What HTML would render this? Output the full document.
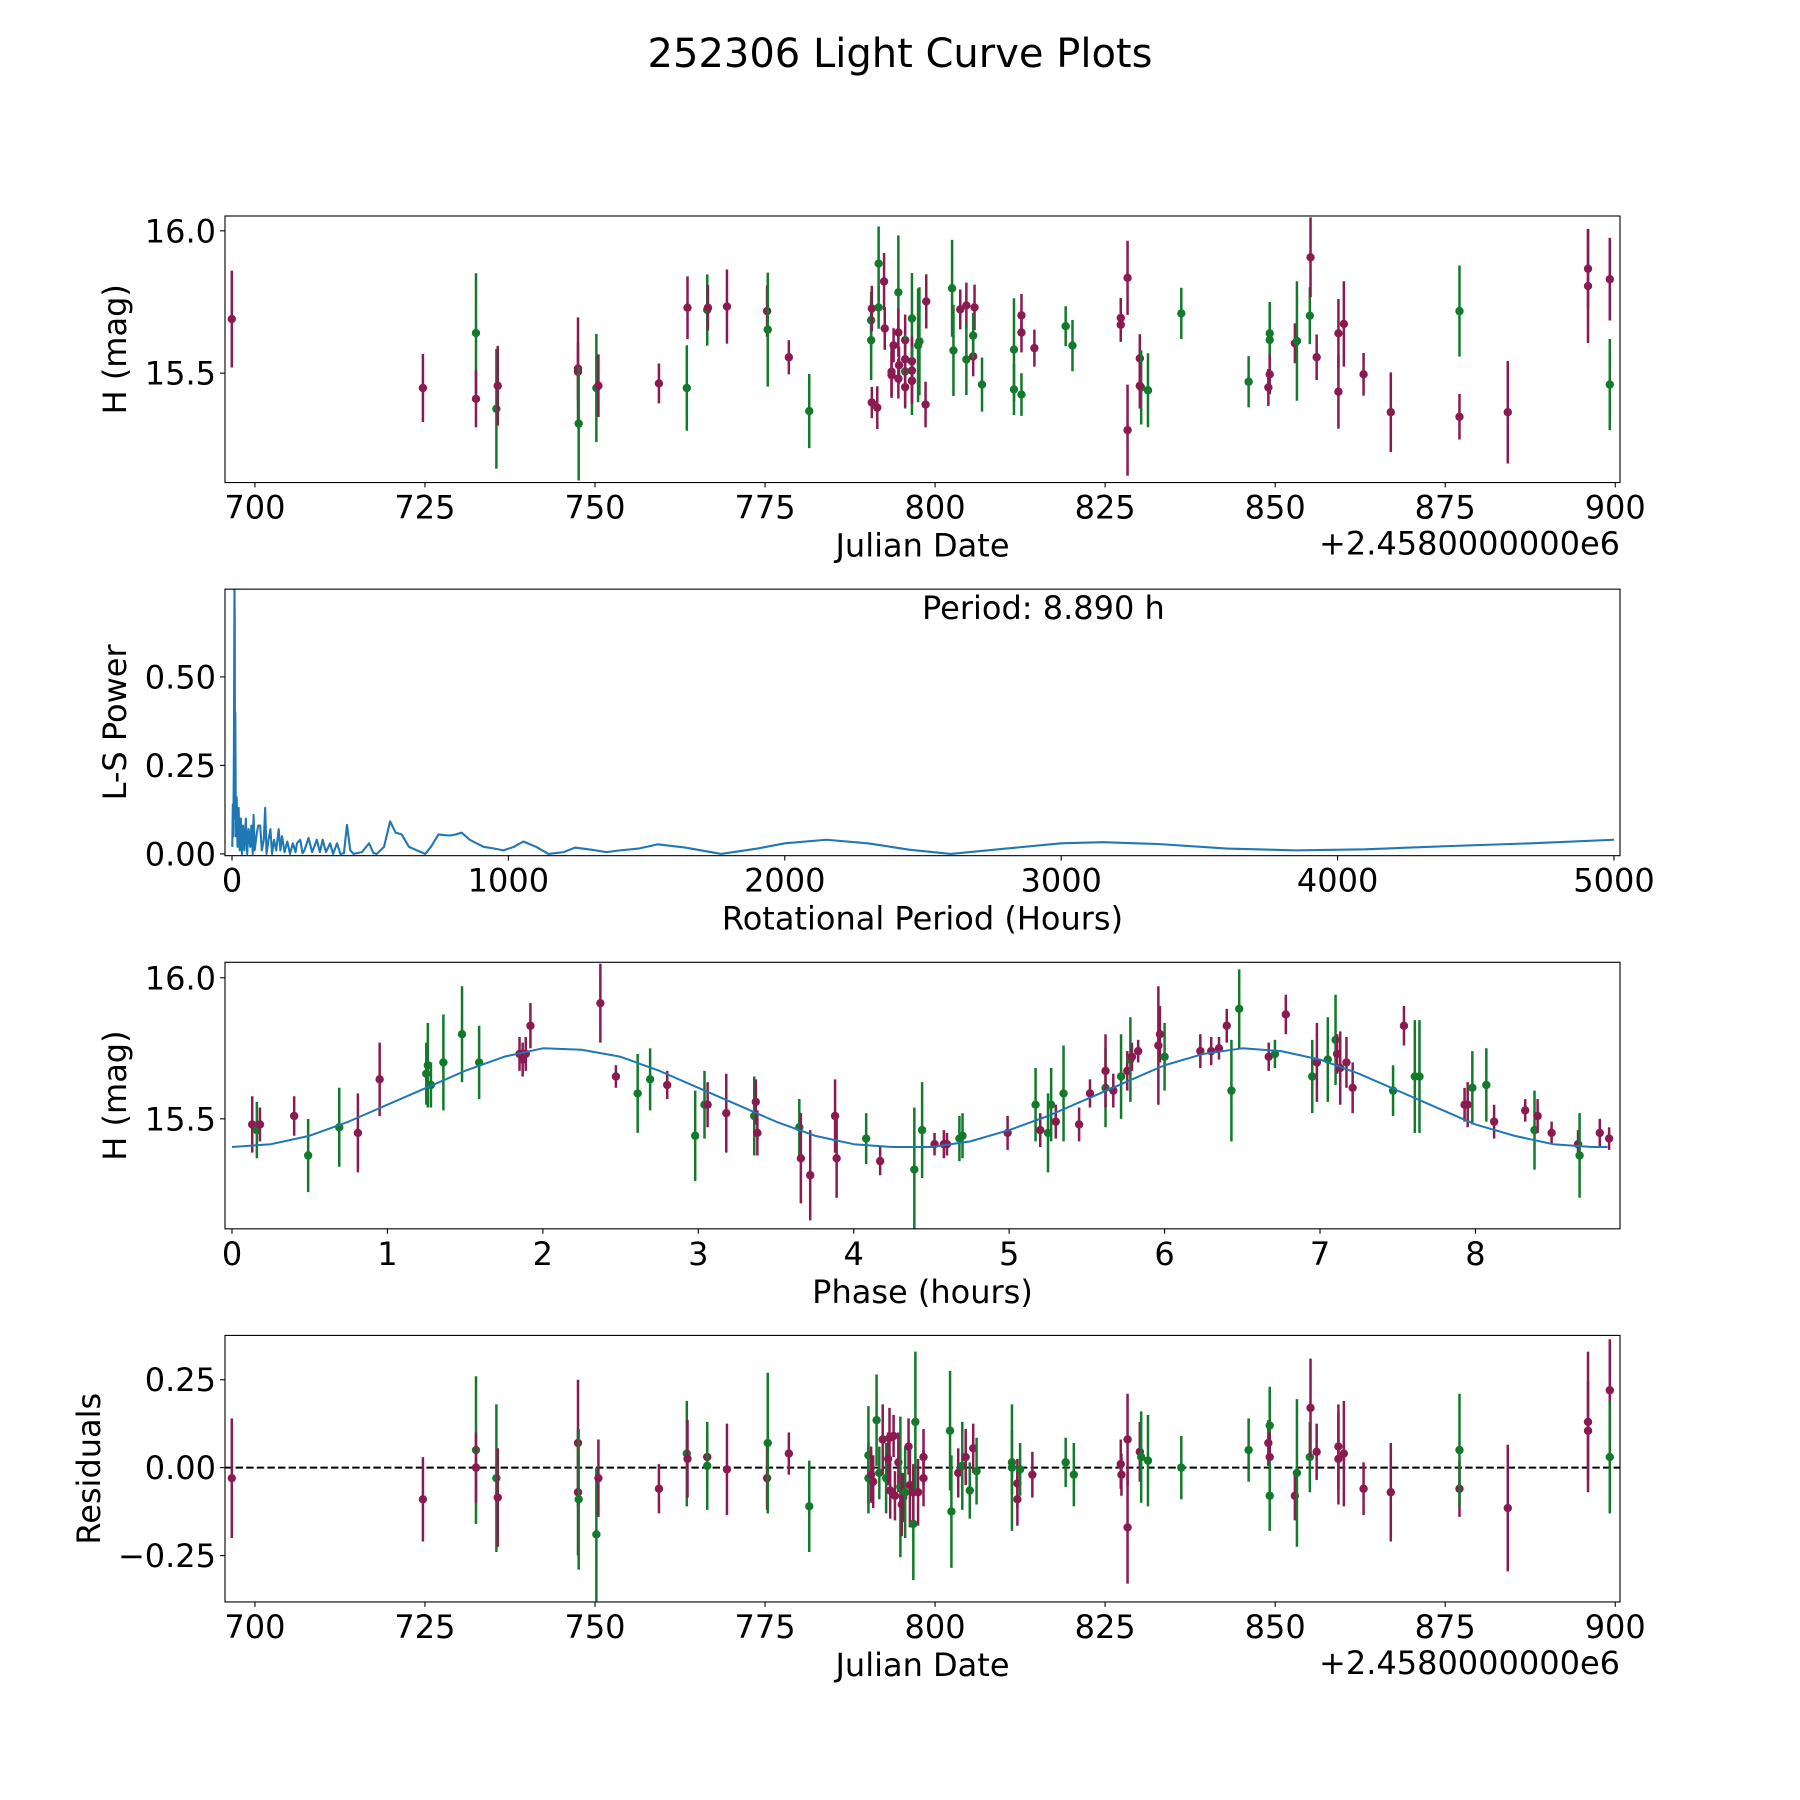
<!DOCTYPE html>
<html><head><meta charset="utf-8">
<style>
html,body{margin:0;padding:0;background:#fff;}
svg{display:block;font-family:"DejaVu Sans","Liberation Sans",sans-serif;}
</style></head>
<body>
<svg id="fig" width="1800" height="1800" viewBox="0 0 1800 1800" xmlns="http://www.w3.org/2000/svg">
<rect width="1800" height="1800" fill="#fff"/>
<text x="900" y="67" font-size="40" text-anchor="middle">252306 Light Curve Plots</text>
</svg>
<script>
// ---------- Panel 1: observations ----------
const obsJD=[696.6,724.7,732.5,732.5,735.5,735.7,747.5,747.5,747.6,750.2,750.5,759.4,763.5,763.6,766.5,766.6,769.4,775.3,775.4,778.5,781.5,
790.6,790.6,790.7,790.7,791.5,791.7,791.7,792.5,792.6,793.9,793.6,793.6,794.6,794.6,794.7,794.6,795.6,795.6,795.6,795.6,796.6,796.6,796.6,796.6,796.6,797.5,797.7,798.7,798.6,
802.5,802.7,803.7,804.6,804.6,805.8,805.6,805.6,806.9,811.6,811.6,812.7,812.7,812.7,814.6,
819.2,820.2,827.3,827.3,828.3,828.3,830.1,830.3,830.1,831.3,836.2,846.1,849.0,849.2,849.2,849.2,852.9,853.2,855.1,855.2,856.1,859.3,859.3,860.1,863.0,867.0,877.1,877.1,884.2,896.0,896.0,899.2,899.2];
const obsMag=[15.69,15.448,15.641,15.41,15.375,15.456,15.516,15.505,15.323,15.448,15.456,15.464,15.448,15.73,15.722,15.73,15.734,15.718,15.653,15.556,15.367,
15.686,15.616,15.727,15.397,15.379,15.885,15.731,15.822,15.657,15.598,15.505,15.493,15.784,15.643,15.528,15.481,15.616,15.506,15.549,15.451,15.692,15.542,15.509,15.473,15.473,15.598,15.612,15.752,15.39,
15.798,15.58,15.724,15.738,15.548,15.731,15.559,15.632,15.46,15.583,15.443,15.703,15.643,15.425,15.588,
15.665,15.597,15.694,15.67,15.835,15.30,15.552,15.45,15.456,15.44,15.71,15.47,15.45,15.64,15.617,15.496,15.605,15.613,15.702,15.907,15.556,15.64,15.435,15.673,15.496,15.363,15.347,15.718,15.363,15.806,15.867,15.83,15.46];
const obsErr=[.17,.12,.21,.10,.21,.14,.18,.10,.20,.19,.11,.07,.15,.11,.125,.08,.13,.09,.20,.06,.13,
.10,.14,.08,.055,.075,.13,.075,.10,.075,.06,.085,.08,.20,.085,.065,.07,.09,.13,.07,.07,.16,.08,.12,.12,.08,.20,.19,.095,.08,
.17,.16,.07,.08,.125,.08,.07,.08,.095,.18,.09,.075,.07,.075,.065,
.07,.09,.07,.06,.13,.16,.085,.13,.08,.13,.09,.09,.065,.11,.10,.07,.07,.21,.10,.14,.08,.12,.13,.15,.075,.14,.08,.16,.18,.20,.14,.145,.16];
const obsBand="mmgmgmmmggmmgmgmmmgmg"+"ggmmmggmmmmmgmmmmgmmgmmgmggmm"+"ggmmgmmggggmmgm"+"ggmmmmmgmgggmggmmggmmmmmmmmgmmmmg";

// ---------- Panel 2: periodogram ----------
const perHours=[1,3,5,7,8.89,10,11,12,14,17,20,24,28,32,36,40,45,50,55,60,66,70,75,78,82,90,95,102,108,115,120,125,132,139,145,152,160,169,175,181,190,200,210,220,230,235,247,255,262,277,290,307,318,328,340,355,366,380,392,405,416,428,440,470,496,512,524,550,572,592,614,640,669,699,720,747,770,789,810,831,860,910,950,982,1020,1054,1100,1145,1200,1241,1300,1355,1403,1470,1540,1640,1770,1900,2000,2150,2300,2450,2600,2800,3000,3150,3350,3600,3850,4100,4400,4700,5000];
const perPower=[0.02,0.14,0.05,0.3,0.76,0.66,0.1,0.4,0.05,0.16,0.02,0.13,0.01,0.10,0.0,0.08,0.01,0.1,0.0,0.07,0.02,0.08,0.0,0.11,0.01,0.06,0.08,0.08,0.01,0.04,0.13,0.0,0.04,0.07,0.0,0.04,0.01,0.07,0.01,0.05,0.005,0.035,0.0,0.03,0.005,0.03,0.04,0.002,0.01,0.045,0.005,0.04,0.005,0.04,0.005,0.03,0.0,0.03,0.0,0.002,0.082,0.01,0.0,0.005,0.03,0.002,0.0,0.02,0.092,0.06,0.055,0.02,0.01,0.0,0.02,0.055,0.053,0.052,0.055,0.06,0.04,0.02,0.015,0.01,0.02,0.035,0.02,0.0,0.005,0.018,0.012,0.005,0.01,0.015,0.027,0.018,0.0,0.015,0.03,0.04,0.03,0.012,0.0,0.015,0.03,0.033,0.028,0.015,0.01,0.013,0.022,0.03,0.04];

// ---------- Panel 3: phased data ----------
const phaseVal=[0.13,0.16,0.18,0.40,0.49,0.69,0.81,0.95,1.25,1.26,1.28,1.36,1.48,1.59,1.85,1.87,1.89,1.92,2.37,2.47,2.61,2.69,2.80,2.98,3.04,3.06,3.18,3.36,3.37,3.38,3.65,3.66,3.72,3.88,3.89,4.08,4.17,4.39,4.44,4.52,4.58,4.60,4.68,4.70,4.99,
5.17,5.20,5.25,5.27,5.30,5.35,5.45,5.52,5.62,5.62,5.67,5.72,5.76,5.78,5.79,5.83,5.96,5.97,6.00,6.23,6.30,6.35,6.40,6.43,6.48,6.67,6.71,6.78,6.95,6.98,7.05,7.10,7.11,7.13,7.17,7.21,7.47,7.54,7.61,7.64,7.93,7.95,7.98,8.07,8.12,8.32,8.38,8.40,8.49,8.66,8.67,8.80,8.86];
const phaseMag=[15.48,15.46,15.48,15.51,15.37,15.47,15.45,15.64,15.66,15.69,15.62,15.70,15.80,15.70,15.73,15.71,15.73,15.83,15.91,15.65,15.59,15.64,15.62,15.44,15.55,15.55,15.52,15.51,15.56,15.45,15.47,15.36,15.30,15.51,15.36,15.43,15.35,15.32,15.46,15.41,15.41,15.41,15.43,15.44,15.45,
15.55,15.46,15.45,15.55,15.49,15.59,15.48,15.59,15.61,15.67,15.60,15.65,15.67,15.71,15.72,15.74,15.76,15.80,15.72,15.74,15.74,15.75,15.83,15.60,15.89,15.72,15.73,15.87,15.65,15.70,15.71,15.78,15.73,15.68,15.70,15.61,15.60,15.83,15.65,15.65,15.55,15.55,15.61,15.62,15.49,15.53,15.46,15.51,15.45,15.41,15.37,15.45,15.43];
const phaseErr=[.1,.1,.06,.07,.13,.14,.14,.13,.11,.15,.08,.17,.17,.13,.06,.06,.06,.08,.14,.04,.14,.11,.05,.16,.12,.08,.14,.14,.08,.08,.10,.16,.16,.13,.14,.09,.05,.22,.17,.04,.05,.04,.08,.08,.06,
.13,.06,.14,.13,.06,.17,.06,.05,.14,.13,.06,.15,.07,.15,.05,.04,.21,.10,.12,.06,.05,.04,.06,.18,.14,.05,.05,.07,.13,.14,.15,.16,.07,.13,.09,.09,.09,.07,.20,.20,.06,.08,.13,.13,.06,.04,.14,.06,.04,.05,.15,.05,.04];
const phaseBand="mgmmggmmggggggmmmmmmggmggmmgmmgmmmmgmggmmmggm"+"gmggmgmmgmmgmgmmmmgmmmmggmgmgmggmmmmgmggmmggmmgmmmgmm";
const fitPhase=[0,0.25,0.5,0.75,1,1.25,1.5,1.75,2,2.25,2.5,2.75,3,3.25,3.5,3.75,4,4.25,4.5,4.75,5,5.25,5.5,5.75,6,6.25,6.5,6.75,7,7.25,7.5,7.75,8,8.25,8.5,8.75,8.85];
const fitMag=[15.40,15.41,15.44,15.49,15.55,15.61,15.67,15.72,15.75,15.745,15.72,15.67,15.61,15.55,15.49,15.44,15.41,15.40,15.40,15.42,15.46,15.51,15.57,15.63,15.69,15.73,15.75,15.74,15.71,15.66,15.60,15.54,15.48,15.44,15.41,15.40,15.40];

// ---------- Panel 4: residuals ----------
const resJD=[696.6,724.7,732.5,732.5,735.5,735.7,747.5,747.5,747.6,750.2,750.5,759.4,763.5,763.6,766.5,766.5,769.4,775.3,775.4,778.5,781.5,
790.2,790.2,790.6,790.9,791.4,791.8,792.3,792.8,793.1,793.3,793.4,793.9,794.1,794.6,794.9,795.1,795.3,795.6,796.1,796.3,796.8,796.8,797.1,797.5,798.3,798.3,
802.2,802.4,803.4,804.0,804.5,805.1,805.6,806.1,811.3,811.3,812.1,812.1,812.5,814.3,819.2,820.4,827.3,827.4,828.3,828.3,830.1,830.3,831.3,836.2,846.1,849.0,849.2,849.2,849.2,852.9,853.2,855.1,855.2,856.1,859.3,859.3,860.1,863.0,867.0,877.1,877.1,884.2,896.0,896.0,899.2,899.2];
const resVal=[-0.03,-0.09,0.05,0.0,-0.03,-0.085,0.07,-0.07,-0.09,-0.19,-0.03,-0.06,0.04,0.025,0.03,0.005,-0.005,-0.03,0.07,0.04,-0.11,
0.035,-0.03,-0.02,-0.04,0.135,-0.015,0.08,-0.03,0.025,0.085,-0.065,0.09,-0.08,0.015,-0.055,-0.105,-0.085,-0.07,0.06,-0.05,-0.16,-0.07,0.13,-0.07,0.03,-0.03,
0.105,-0.125,-0.015,0.005,0.03,-0.065,0.055,-0.01,0.015,0.0,-0.045,-0.09,-0.005,-0.02,0.015,-0.02,0.01,-0.02,0.08,-0.17,0.045,0.03,0.02,0.0,0.05,0.07,0.12,0.03,-0.08,-0.08,-0.015,0.03,0.17,0.045,0.06,0.025,0.04,-0.06,-0.07,-0.06,0.05,-0.115,0.13,0.105,0.22,0.03];
const resErr=[.17,.12,.21,.10,.21,.14,.18,.18,.20,.19,.11,.07,.15,.11,.08,.125,.13,.09,.20,.06,.13,
.14,.10,.08,.075,.13,.075,.10,.10,.075,.085,.08,.06,.07,.085,.20,.09,.07,.13,.08,.12,.16,.08,.20,.095,.08,.08,
.17,.16,.07,.125,.08,.08,.07,.095,.09,.18,.07,.075,.075,.065,.07,.09,.07,.06,.13,.16,.085,.13,.13,.09,.09,.065,.11,.07,.10,.07,.21,.10,.14,.08,.12,.13,.15,.075,.14,.08,.16,.18,.20,.14,.145,.16];
const resBand="mmgmgmmmggmmgmmgmmgmg"+"ggmmggmgmmmmmmgmmgmmgmgmmm"+"ggmgmgmgggmmgmggmmmmmggggmgmgmggmmmmmmmmgmmmmg";

const COL={m:"#8a1a50",g:"#137a2c"};
const NS="http://www.w3.org/2000/svg";
const svg=document.getElementById("fig");
function el(tag,attrs,parent){const e=document.createElementNS(NS,tag);for(const k in attrs)e.setAttribute(k,attrs[k]);(parent||svg).appendChild(e);return e;}
const L=225,R=1620,H=266.54,GAP=106.6,T0=216;
function lin(d0,d1,p0,p1){return v=>p0+(v-d0)*(p1-p0)/(d1-d0);}
const FS=32;

function makeAxes(idx,xl,yl,xt,xtl,yt,ytl,xlabel,ylabel,name,offset,ylabX){
  const top=T0+idx*(H+GAP),bot=top+H;
  const g=el("g",{});
  
  
  const sx=lin(xl[0],xl[1],L,R),sy=lin(yl[0],yl[1],bot,top);
  const cid="clip"+idx;
  const cp=el("clipPath",{id:cid},g);el("rect",{x:L,y:top,width:R-L,height:H},cp);
  const plot=el("g",{"clip-path":"url(#"+cid+")"},g);
  
  
  xt.forEach((v,i)=>{const x=sx(v);
    const tk=el("line",{x1:x,x2:x,y1:bot,y2:bot+4.9,stroke:"#000","stroke-width":1.1},g);
    
    
    const t=el("text",{x:x,y:bot+36,"font-size":FS,"text-anchor":"middle"},g);t.textContent=xtl[i];
    
    });
  yt.forEach((v,i)=>{const y=sy(v);
    const tk=el("line",{x1:L-4.9,x2:L,y1:y,y2:y,stroke:"#000","stroke-width":1.1},g);
    
    
    const t=el("text",{x:L-9,y:y+11.5,"font-size":FS,"text-anchor":"end"},g);t.textContent=ytl[i];
    
    });
  const xlab=el("text",{x:(L+R)/2,y:bot+74,"font-size":FS,"text-anchor":"middle"},g);xlab.textContent=xlabel;
  
  
  const cy=(top+bot)/2;
  const ylab=el("text",{x:0,y:0,"font-size":FS,"text-anchor":"middle",transform:"translate("+(ylabX||126)+","+cy+") rotate(-90)"},g);ylab.textContent=ylabel;
  
  
  if(offset){const o=el("text",{x:R,y:bot+72,"font-size":FS,"text-anchor":"end"},g);o.textContent=offset;
    
    }
  return {g,plot,sx,sy,top,bot,frame:()=>{const f=el("rect",{x:L,y:top,width:R-L,height:H,fill:"none",stroke:"#000","stroke-width":1.1},g);
    
    }};
}
function errPoints(ax,xs,ys,es,bands,name){
  xs.forEach((x,i)=>{const c=COL[bands[i]]||COL.m;const px=ax.sx(x);
    const ln=el("line",{x1:px,x2:px,y1:ax.sy(ys[i]-es[i]),y2:ax.sy(ys[i]+es[i]),stroke:c,"stroke-width":2.5},ax.plot);
    
    
    const d=el("circle",{cx:px,cy:ax.sy(ys[i]),r:4.2,fill:c},ax.plot);
    
    });
}
const jdT=[700,725,750,775,800,825,850,875,900],jdL=jdT.map(String);

// Panel 1
const a1=makeAxes(0,[695.6,900.7],[15.116,16.052],jdT,jdL,[15.5,16.0],["15.5","16.0"],"Julian Date","H (mag)","light-curve-panel","+2.4580000000e6");
errPoints(a1,obsJD,obsMag,obsErr,obsBand,"observation");
a1.frame();

// Panel 2
const a2=makeAxes(1,[-25.3,5021.7],[-0.005,0.748],[0,1000,2000,3000,4000,5000],["0","1000","2000","3000","4000","5000"],[0,0.25,0.5],["0.00","0.25","0.50"],"Rotational Period (Hours)","L-S Power","periodogram-panel");
const pl=el("polyline",{points:perHours.map((p,i)=>a2.sx(p)+","+a2.sy(perPower[i])).join(" "),fill:"none",stroke:"#1f77b4","stroke-width":2.1,"stroke-linejoin":"round"},a2.plot);


const pt=el("text",{x:922,y:619,"font-size":FS},a2.g);pt.textContent="Period: 8.890 h";


a2.frame();

// Panel 3
const a3=makeAxes(2,[-0.045,8.93],[15.11,16.055],[0,1,2,3,4,5,6,7,8],["0","1","2","3","4","5","6","7","8"],[15.5,16.0],["15.5","16.0"],"Phase (hours)","H (mag)","phase-panel");
errPoints(a3,phaseVal,phaseMag,phaseErr,phaseBand,"phase");
const fl=el("polyline",{points:fitPhase.map((p,i)=>a3.sx(p)+","+a3.sy(fitMag[i])).join(" "),fill:"none",stroke:"#1f77b4","stroke-width":2,"stroke-linejoin":"round"},a3.plot);


a3.frame();

// Panel 4
const a4=makeAxes(3,[695.6,900.7],[-0.382,0.376],jdT,jdL,[-0.25,0,0.25],["\u22120.25","0.00","0.25"],"Julian Date","Residuals","residuals-panel","+2.4580000000e6",100);
const zl=el("line",{x1:L,x2:R,y1:a4.sy(0),y2:a4.sy(0),stroke:"#000","stroke-width":2,"stroke-dasharray":"7.4,3.2"},a4.plot);


errPoints(a4,resJD,resVal,resErr,resBand,"residual");
a4.frame();
</script>
</body></html>
